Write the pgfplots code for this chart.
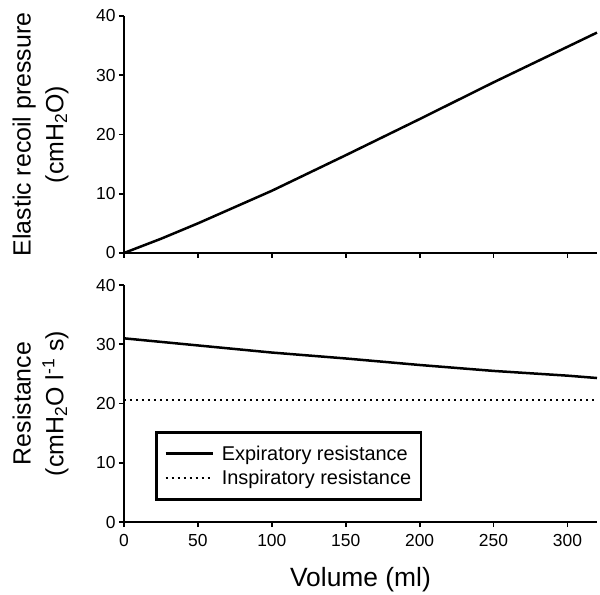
\documentclass[border=0pt]{standalone}
\usepackage{fontspec}
\setmainfont{Liberation Sans}
\usepackage{pgfplots}
\pgfplotsset{compat=1.18}

\pgfplotsset{
  panel/.style={
    scale only axis,
    width=473bp, height=237bp,
    xmin=0, xmax=320,
    ymin=0, ymax=40,
    axis lines*=left,
    axis line style={line width=2.5bp},
    tick align=outside,
    major tick length=5bp,
    tick style={line width=1.8bp, black},
    xtick={0,50,...,300},
    ytick={0,10,...,40},
    tick label style={font=\fontsize{17.5}{20}\selectfont},
    xticklabel style={yshift=-4bp},
    /pgf/number format/assume math mode=true,
    ylabel style={font=\fontsize{25}{33}\selectfont, align=center,
      at={(axis description cs:-0.1765,0.5)}, anchor=center},
    xlabel style={font=\fontsize{26.5}{30}\selectfont,
      at={(axis description cs:0.5,-0.177)}, anchor=north},
    clip=false,
  },
}

\begin{document}
\begin{tikzpicture}
\useasboundingbox (-124bp,-73bp) rectangle (476bp,522bp);

% top panel
\begin{axis}[panel, at={(0bp,269bp)}, xticklabels={},
  ylabel={Elastic recoil pressure\\(cmH\textsubscript{2}O)}]
\addplot[black, line width=2.5bp] coordinates {
  (0,0) (25,2.4) (50,5.0) (100,10.5) (150,16.5) (200,22.6) (250,28.8) (300,34.8) (320,37.2)
};
\end{axis}

% bottom panel
\begin{axis}[panel, at={(0bp,0bp)},
  xlabel={Volume (ml)},
  ylabel={Resistance\\(cmH\textsubscript{2}O l\textsuperscript{-1} s)},
  legend style={at={(axis cs:21,15.3)}, anchor=north west,
    draw=black, line width=2.5bp, font=\fontsize{20}{24}\selectfont,
    inner xsep=8bp, inner ysep=11bp, row sep=5bp},
  legend cell align=left,
  legend image code/.code={\draw[#1] (0bp,0bp) -- (47bp,0bp);}]
\addplot[black, line width=2.5bp] coordinates {
  (0,31.0) (50,29.8) (100,28.6) (150,27.6) (200,26.5) (250,25.5) (300,24.7) (320,24.3)
};
\addlegendentry{\hspace*{6bp}Expiratory resistance\hspace{14bp}}
\addplot[black, line width=2bp, dash pattern=on 2bp off 4bp] coordinates {
  (0,20.6) (320,20.6)
};
\addlegendentry{\hspace*{6bp}Inspiratory resistance\hspace{14bp}}
\end{axis}
\end{tikzpicture}
\end{document}
